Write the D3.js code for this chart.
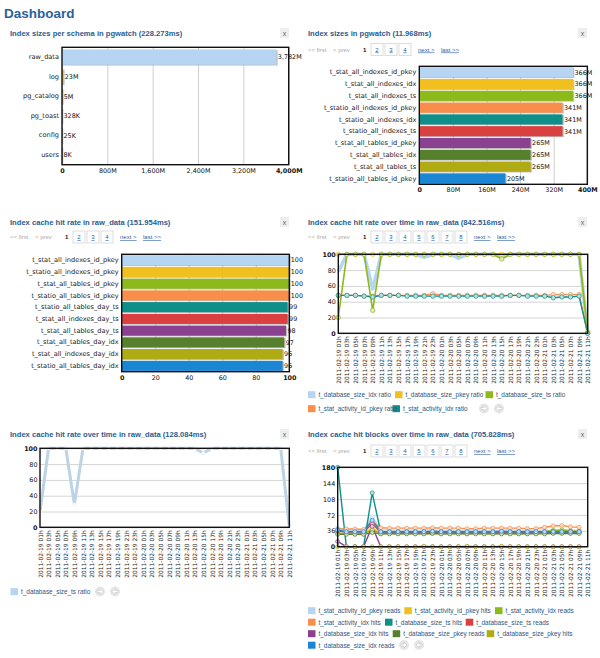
<!DOCTYPE html>
<html>
<head>
<meta charset="utf-8">
<script src="https://cdn.jsdelivr.net/npm/d3@7"></script>
<style>
body { margin: 0; background: #fff; font-family: "Liberation Sans", Arial, sans-serif; }
</style>
</head>
<body>
<svg id="dash" width="600" height="658"></svg>
<script>
// ---- data ----
const schemaNames = ['raw_data', 'log', 'pg_catalog', 'pg_toast', 'config', 'users'];
const schemaSizes = [3782, 23, 5, 0.328, 0.025, 0.008];   // MB
const schemaLabels = ['3,782M', '23M', '5M', '328K', '25K', '8K'];
const schemaTicks = [0, 800, 1600, 2400, 3200, 4000];
const schemaTickLabels = ['0', '800M', '1,600M', '2,400M', '3,200M', '4,000M'];

const indexNames = ['t_stat_all_indexes_id_pkey', 't_stat_all_indexes_idx', 't_stat_all_indexes_ts',
  't_statio_all_indexes_id_pkey', 't_statio_all_indexes_idx', 't_statio_all_indexes_ts',
  't_stat_all_tables_id_pkey', 't_stat_all_tables_idx', 't_stat_all_tables_ts', 't_statio_all_tables_id_pkey'];
const indexSizes = [366, 366, 366, 341, 341, 341, 265, 265, 265, 205];
const indexTicks = [0, 80, 160, 240, 320, 400];
const indexTickLabels = ['0', '80M', '160M', '240M', '320M', '400M'];

const hitNames = ['t_stat_all_indexes_id_pkey', 't_statio_all_indexes_id_pkey', 't_stat_all_tables_id_pkey',
  't_statio_all_tables_id_pkey', 't_statio_all_tables_day_ts', 't_stat_all_indexes_day_ts',
  't_stat_all_tables_day_ts', 't_stat_all_tables_day_idx', 't_stat_all_indexes_day_idx', 't_statio_all_tables_day_idx'];
const hitRates = [100, 100, 100, 100, 99, 99, 98, 97, 96, 96];
const rateTicks = [0, 20, 40, 60, 80, 100];

const hours = ['2011-02-19 01h', '2011-02-19 03h', '2011-02-19 05h', '2011-02-19 07h', '2011-02-19 09h',
  '2011-02-19 11h', '2011-02-19 13h', '2011-02-19 15h', '2011-02-19 17h', '2011-02-19 19h',
  '2011-02-19 21h', '2011-02-19 23h', '2011-02-20 01h', '2011-02-20 03h', '2011-02-20 05h',
  '2011-02-20 07h', '2011-02-20 09h', '2011-02-20 11h', '2011-02-20 13h', '2011-02-20 15h',
  '2011-02-20 17h', '2011-02-20 19h', '2011-02-20 21h', '2011-02-20 23h', '2011-02-21 01h',
  '2011-02-21 03h', '2011-02-21 05h', '2011-02-21 07h', '2011-02-21 09h', '2011-02-21 11h'];

const idxRatio     = [78, 100, 100, 100, 56, 100, 100, 100, 100, 100, 96, 100, 100, 100, 95, 100, 100, 100, 100, 97, 100, 100, 100, 100, 100, 100, 100, 100, 100, 0];
const pkeyRatio    = [100, 100, 100, 100, 100, 100, 100, 100, 100, 100, 100, 100, 100, 100, 100, 100, 100, 100, 100, 100, 100, 100, 100, 100, 100, 100, 100, 100, 100, 1];
const tsRatio      = [20, 100, 100, 100, 29, 100, 100, 100, 100, 100, 100, 100, 100, 100, 100, 100, 100, 100, 100, 94, 100, 100, 100, 100, 100, 100, 100, 100, 100, 1];
const actPkeyRatio = [48, 48, 48, 47, 47, 48, 48, 48, 48, 48, 48, 50, 48, 48, 48, 48, 48, 48, 48, 48, 48, 48, 48, 48, 48, 49, 49, 49, 49, 0];
const actIdxRatio  = [48, 48, 48, 47, 46, 48, 48, 48, 47, 47, 47, 47, 47, 47, 47, 47, 47, 47, 47, 47, 48, 48, 47, 47, 47, 45, 46, 46, 47, 0];

const blockTicks = [0, 36, 72, 108, 144, 180];
const actPkeyReads = [42, 37, 37, 36, 68, 38, 38, 37, 38, 37, 38, 38, 37, 38, 37, 37, 38, 37, 37, 37, 38, 37, 37, 37, 37, 38, 38, 37, 37, null];
const actPkeyHits  = [30, 30, 30, 30, 42, 31, 31, 31, 31, 31, 31, 32, 31, 31, 31, 31, 31, 31, 31, 31, 31, 31, 31, 31, 32, 33, 33, 32, 32, null];
const actIdxReads  = [30, 29, 29, 29, 38, 30, 30, 30, 30, 30, 30, 31, 30, 30, 30, 30, 30, 30, 30, 30, 30, 30, 30, 31, 34, 37, 38, 36, 35, null];
const actIdxHits   = [40, 40, 40, 39, 55, 43, 42, 42, 42, 42, 42, 43, 42, 42, 42, 41, 41, 42, 42, 42, 42, 42, 41, 41, 44, 47, 48, 45, 44, null];
const tsHits       = [180, 0, 0, 0, 122, 33, 33, 33, 33, 33, 33, 34, 33, 33, 33, 33, 33, 33, 33, 33, 33, 33, 33, 33, 33, 33, 33, 33, 33, null];
const tsReads      = [35, 33, 33, 33, 52, 33, 33, 33, 33, 33, 33, 33, 33, 33, 33, 33, 33, 33, 33, 33, 33, 33, 33, 33, 33, 34, 34, 34, 34, null];
const idxHits      = [12, 0, 0, 0, 46, 0, 0, 0, 0, 0, 0, 0, 0, 0, 0, 0, 0, 0, 0, 0, 0, 0, 0, 0, 0, 0, 0, 0, 0, null];
const pkeyReads    = [28, 28, 28, 28, 32, 29, 29, 29, 29, 29, 29, 30, 29, 29, 29, 29, 29, 29, 29, 29, 29, 29, 29, 29, 29, 30, 30, 30, 30, null];
const pkeyHits     = [0, 0, 0, 0, 0, 0, 0, 0, 0, 0, 1, 0, 0, 0, 0, 1, 0, 0, 0, 1, 0, 0, 0, 0, 0, 0, 0, 0, 0, null];
const idxReads     = [38, 34, 34, 34, 60, 34, 34, 34, 34, 34, 34, 35, 34, 34, 34, 34, 34, 34, 34, 35, 34, 34, 34, 34, 34, 34, 34, 34, 34, null];

const palette = ['#b5d5f2', '#f2c01e', '#8cba1a', '#f98e4a', '#0e8f8a', '#d9403f', '#8a418f', '#56802e', '#b0aa14', '#1a86d4'];

// ---- drawing ----
const svg = d3.select('#dash');
const titleBlue = '#2b5d8f';
const linkBlue = '#2a5fa6';
const tickFont = 'DejaVu Sans';

svg.append('text').attr('x', 4).attr('y', 18)
  .attr('font-size', 13.5).attr('font-weight', 'bold').attr('fill', '#2d6197')
  .text('Dashboard');

function panelTitle(x, y, title) {
  svg.append('text').attr('x', x).attr('y', y)
    .attr('font-size', 7.6).attr('font-weight', 'bold').attr('fill', titleBlue).text(title);
  svg.append('rect').attr('x', x + 270).attr('y', y - 8).attr('width', 9).attr('height', 10).attr('fill', '#eeeeee');
  svg.append('text').attr('x', x + 274.5).attr('y', y - 0.5).attr('text-anchor', 'middle')
    .attr('font-size', 7).attr('fill', '#666').text('x');
}

function pager(x, y, pages) {
  const g = svg.append('g').attr('font-size', 6);
  g.append('text').attr('x', x).attr('y', y).attr('fill', '#aaa').text('<< first');
  g.append('text').attr('x', x + 25).attr('y', y).attr('fill', '#aaa').text('< prev');
  g.append('text').attr('x', x + 55).attr('y', y).attr('font-weight', 'bold').attr('fill', '#111').text('1');
  const nums = d3.range(2, pages + 1);
  const bx = d => x + 63 + (d - 2) * 14;
  g.selectAll('.pbox').data(nums).join('rect').attr('class', 'pbox')
    .attr('x', bx).attr('y', y - 8).attr('width', 12).attr('height', 12)
    .attr('fill', '#fff').attr('stroke', '#d4d4d4').attr('stroke-width', 0.8);
  g.selectAll('.pnum').data(nums).join('text').attr('class', 'pnum')
    .attr('x', d => bx(d) + 6).attr('y', y).attr('text-anchor', 'middle')
    .attr('fill', linkBlue).attr('text-decoration', 'underline').text(d => d);
  const nx = bx(pages) + 19;
  g.append('text').attr('x', nx).attr('y', y).attr('fill', linkBlue).attr('text-decoration', 'underline').text('next >');
  g.append('text').attr('x', nx + 23).attr('y', y).attr('fill', linkBlue).attr('text-decoration', 'underline').text('last >>');
}

function hbar(o) {
  const w = o.x1 - o.x0, h = o.y1 - o.y0;
  const g = svg.append('g').attr('transform', `translate(${o.x0},${o.y0})`);
  const x = d3.scaleLinear().domain([0, o.ticks[o.ticks.length - 1]]).range([0, w]);
  const y = d3.scaleBand().domain(o.names).range([0, h]).paddingInner(o.pad).paddingOuter(o.pad / 2);

  g.append('g').call(d3.axisBottom(x).tickValues(o.ticks).tickSize(h).tickFormat(''))
    .call(s => s.select('.domain').remove())
    .selectAll('line').attr('stroke', '#cfcfcf');

  g.selectAll('.shadow').data(o.values).join('rect').attr('class', 'shadow')
    .attr('x', 0).attr('y', (d, i) => y(o.names[i]) + 0.8)
    .attr('width', d => x(d) + 1.3).attr('height', y.bandwidth())
    .attr('fill', '#8a8a8a').attr('opacity', 0.55);
  g.selectAll('.bar').data(o.values).join('rect').attr('class', 'bar')
    .attr('x', 0).attr('y', (d, i) => y(o.names[i]))
    .attr('width', d => x(d)).attr('height', y.bandwidth())
    .attr('fill', (d, i) => palette[i % palette.length]);

  g.selectAll('.val').data(o.values).join('text').attr('class', 'val')
    .attr('x', d => x(d) + 1.5).attr('y', (d, i) => y(o.names[i]) + y.bandwidth() / 2)
    .attr('dy', '0.36em').attr('font-family', tickFont).attr('font-size', 6.4).attr('fill', '#111')
    .text((d, i) => o.labels[i]);

  g.append('rect').attr('width', w).attr('height', h)
    .attr('fill', 'none').attr('stroke', '#111').attr('stroke-width', 1.4);

  const ax = g.append('g').attr('transform', `translate(0,${h})`)
    .call(d3.axisBottom(x).tickValues(o.ticks).tickSize(0).tickPadding(3.5)
      .tickFormat((d, i) => o.tickLabels[i]));
  ax.select('.domain').remove();
  ax.selectAll('text').attr('font-family', tickFont).attr('font-size', 6.4).attr('fill', '#111')
    .attr('font-weight', (d, i) => (i === 0 || i === o.ticks.length - 1) ? 'bold' : 'normal');

  const ay = g.append('g').call(d3.axisLeft(y).tickSize(0).tickPadding(3));
  ay.select('.domain').remove();
  ay.selectAll('text').attr('font-family', tickFont).attr('font-size', 6.6).attr('fill', '#222');
}

function lineChart(o) {
  const w = o.x1 - o.x0, h = o.y1 - o.y0;
  const g = svg.append('g').attr('transform', `translate(${o.x0},${o.y0})`);
  const x = d3.scalePoint().domain(hours).range([0, w]);
  const y = d3.scaleLinear().domain([0, o.ticks[o.ticks.length - 1]]).range([h, 0]);

  g.append('g').call(d3.axisLeft(y).tickValues(o.ticks).tickSize(-w).tickFormat(''))
    .call(s => s.select('.domain').remove())
    .selectAll('line').attr('stroke', '#d4d4d4');

  const line = d3.line().defined(d => d != null).x((d, i) => x(hours[i])).y(d => y(d));
  o.series.forEach(s => {
    g.append('path').datum(s.values).attr('d', line)
      .attr('fill', 'none').attr('stroke', s.color).attr('stroke-width', s.width)
      .attr('stroke-linejoin', 'round');
  });
  o.series.forEach(s => {
    const pts = s.values.map((v, i) => ({ v, i })).filter(d => d.v != null);
    g.selectAll(null).data(pts).join('circle')
      .attr('cx', d => x(hours[d.i])).attr('cy', d => y(d.v)).attr('r', s.r)
      .attr('fill', s.dot || d3.interpolateRgb(s.color, '#ffffff')(0.72))
      .attr('stroke', s.dotStroke || s.color).attr('stroke-width', 0.7);
  });

  g.append('rect').attr('width', w).attr('height', h)
    .attr('fill', 'none').attr('stroke', '#111').attr('stroke-width', 1.4);

  const ay = g.append('g').call(d3.axisLeft(y).tickValues(o.ticks).tickSize(0).tickPadding(2.5));
  ay.select('.domain').remove();
  ay.selectAll('text').attr('font-family', tickFont).attr('font-size', 6.4).attr('fill', '#111')
    .attr('font-weight', (d, i) => (i === 0 || i === o.ticks.length - 1) ? 'bold' : 'normal');

  const ax = g.append('g').attr('transform', `translate(0,${h})`)
    .call(d3.axisBottom(x).tickSize(0));
  ax.select('.domain').remove();
  ax.selectAll('text').attr('font-family', tickFont).attr('font-size', 5.9).attr('fill', '#222')
    .attr('transform', 'rotate(-90)').attr('text-anchor', 'end')
    .attr('x', -3).attr('y', 0).attr('dy', '0.35em');
}

function legend(items, arrowsAt) {
  const g = svg.append('g').attr('font-size', 6.4);
  g.selectAll('rect').data(items).join('rect')
    .attr('x', d => d.x).attr('y', d => d.y - 5.8).attr('width', 7.5).attr('height', 7)
    .attr('fill', d => d.color);
  g.selectAll('text').data(items).join('text')
    .attr('x', d => d.x + 10.5).attr('y', d => d.y).attr('fill', '#2f5580').text(d => d.text);
  // little prev/next arrow buttons
  const [ax, ay] = arrowsAt;
  [0, 1].forEach(k => {
    const cx = ax + k * 15, cy = ay - 2.5;
    g.append('circle').attr('cx', cx).attr('cy', cy).attr('r', 5).attr('fill', '#e6e6e6');
    const dir = k === 0 ? 1 : -1;
    g.append('path')
      .attr('d', `M${cx - 3 * dir},${cy - 1}h${3 * dir}v-2l${3 * dir},3l${-3 * dir},3v-2h${-3 * dir}z`)
      .attr('fill', '#fff').attr('stroke', '#bbb').attr('stroke-width', 0.5);
  });
}

// panel 1
panelTitle(10, 36, 'Index sizes per schema in pgwatch (228.273ms)');
hbar({ x0: 62, y0: 47.3, x1: 288.7, y1: 164.7, names: schemaNames, values: schemaSizes,
  labels: schemaLabels, ticks: schemaTicks, tickLabels: schemaTickLabels, pad: 0.22 });

// panel 2
panelTitle(308, 36, 'Index sizes in pgwatch (11.968ms)');
pager(308, 51.5, 4);
hbar({ x0: 419.3, y0: 66.3, x1: 587.3, y1: 184.3, names: indexNames, values: indexSizes,
  labels: indexSizes.map(v => v + 'M'), ticks: indexTicks, tickLabels: indexTickLabels, pad: 0.14 });

// panel 3
panelTitle(10, 225, 'Index cache hit rate in raw_data (151.954ms)');
pager(10, 239, 4);
hbar({ x0: 121.7, y0: 254.3, x1: 289.3, y1: 371.7, names: hitNames, values: hitRates,
  labels: hitRates.map(String), ticks: rateTicks, tickLabels: rateTicks.map(String), pad: 0.14 });

// panel 4
panelTitle(308, 225, 'Index cache hit rate over time in raw_data (842.516ms)');
pager(308, 239, 8);
lineChart({ x0: 338.3, y0: 254.3, x1: 587.7, y1: 333.3, ticks: rateTicks, series: [
  { values: idxRatio, color: palette[0], width: 3.5, r: 0 },
  { values: pkeyRatio, color: palette[1], width: 1.6, r: 2.2 },
  { values: tsRatio, color: palette[2], width: 1.6, r: 2.2 },
  { values: actPkeyRatio, color: palette[3], width: 1.4, r: 2.2 },
  { values: actIdxRatio, color: palette[4], width: 1.4, r: 2.2 }
] });
legend([
  { x: 308, y: 397, color: palette[0], text: 't_database_size_idx ratio' },
  { x: 395, y: 397, color: palette[1], text: 't_database_size_pkey ratio' },
  { x: 485.5, y: 397, color: palette[2], text: 't_database_size_ts ratio' },
  { x: 308, y: 411, color: palette[3], text: 't_stat_activity_id_pkey ratio' },
  { x: 392.5, y: 411, color: palette[4], text: 't_stat_activity_idx ratio' }
], [484, 411]);

// panel 5
panelTitle(10, 437, 'Index cache hit rate over time in raw_data (128.084ms)');
lineChart({ x0: 40, y0: 448.3, x1: 289.3, y1: 527.3, ticks: rateTicks, series: [
  { values: tsRatio, color: '#bcd3e6', width: 3, r: 1.6, dot: '#fff', dotStroke: '#e8eef4' }
] });
legend([
  { x: 10.5, y: 594, color: palette[0], text: 't_database_size_ts ratio' }
], [100, 594]);

// panel 6
panelTitle(308, 437, 'Index cache hit blocks over time in raw_data (705.828ms)');
pager(308, 453, 8);
lineChart({ x0: 337.7, y0: 467.3, x1: 587.7, y1: 546.7, ticks: blockTicks, series: [
  { values: actPkeyReads, color: palette[0], width: 1.4, r: 2 },
  { values: actPkeyHits, color: palette[1], width: 1.4, r: 2 },
  { values: actIdxReads, color: palette[2], width: 1.4, r: 2 },
  { values: actIdxHits, color: palette[3], width: 1.4, r: 2 },
  { values: tsHits, color: palette[4], width: 1.4, r: 2 },
  { values: tsReads, color: palette[5], width: 1.4, r: 2 },
  { values: idxHits, color: palette[6], width: 1.4, r: 2 },
  { values: pkeyReads, color: palette[7], width: 1.4, r: 2 },
  { values: pkeyHits, color: palette[8], width: 1.4, r: 2 },
  { values: idxReads, color: palette[9], width: 1.4, r: 2 }
] });
legend([
  { x: 308, y: 613, color: palette[0], text: 't_stat_activity_id_pkey reads' },
  { x: 404.3, y: 613, color: palette[1], text: 't_stat_activity_id_pkey hits' },
  { x: 495, y: 613, color: palette[2], text: 't_stat_activity_idx reads' },
  { x: 308, y: 624.5, color: palette[3], text: 't_stat_activity_idx hits' },
  { x: 385, y: 624.5, color: palette[4], text: 't_database_size_ts hits' },
  { x: 465.7, y: 624.5, color: palette[5], text: 't_database_size_ts reads' },
  { x: 308, y: 636, color: palette[6], text: 't_database_size_idx hits' },
  { x: 392.7, y: 636, color: palette[7], text: 't_database_size_pkey reads' },
  { x: 486.7, y: 636, color: palette[8], text: 't_database_size_pkey hits' },
  { x: 308, y: 647.5, color: palette[9], text: 't_database_size_idx reads' }
], [404, 647.5]);
</script>
</body>
</html>
